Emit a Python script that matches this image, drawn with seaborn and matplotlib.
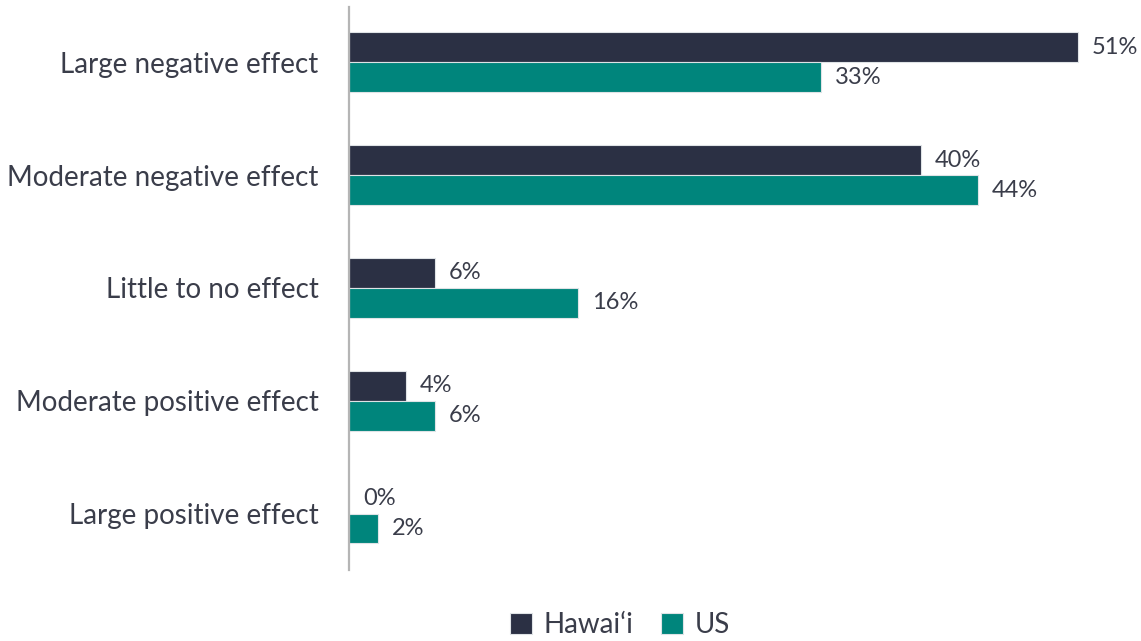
import matplotlib
matplotlib.use("Agg")
import matplotlib.pyplot as plt
import seaborn as sns
import pandas as pd

categories = [
    "Large negative effect",
    "Moderate negative effect",
    "Little to no effect",
    "Moderate positive effect",
    "Large positive effect",
]
hawaii = [51, 40, 6, 4, 0]
us = [33, 44, 16, 6, 2]
series_names = ["Hawai\u2018i", "US"]
colors = ["#2b3044", "#00857c"]
text_color = "#3a3d4a"

df = pd.DataFrame({
    "category": categories * 2,
    "value": hawaii + us,
    "region": [series_names[0]] * len(categories) + [series_names[1]] * len(categories),
})

sns.set_theme(style="white")
plt.rcParams["font.family"] = ["Lato", "DejaVu Sans"]

fig = plt.figure(figsize=(11.41, 6.41), dpi=100)
ax = fig.add_axes([349 / 1141, 1 - 570 / 641, (1120 - 349) / 1141, (570 - 7) / 641])

sns.barplot(
    data=df, x="value", y="category", hue="region", order=categories,
    hue_order=series_names, palette=colors, saturation=1, orient="h", width=0.53,
    edgecolor="#dfe3e6", linewidth=0.8, ax=ax, legend=True,
)

ax.set_xlim(0, (1120 - 349) / (729 / 51))
ax.set_ylim(4.5, -0.49)
ax.set_xlabel("")
ax.set_ylabel("")
ax.set_xticks([])
for s in ["top", "right", "bottom"]:
    ax.spines[s].set_visible(False)
ax.spines["left"].set_color("#b5b5b5")
ax.spines["left"].set_linewidth(1.6)
ax.tick_params(axis="y", length=0, pad=22, labelsize=20, labelcolor=text_color)

for cont in ax.containers:
    ax.bar_label(cont, fmt="%d%%", padding=10, fontsize=17, color=text_color)

ax.legend(
    loc="center", bbox_to_anchor=(620 / 1141, 1 - 625 / 641),
    bbox_transform=fig.transFigure, ncol=2, frameon=False,
    handlelength=0.8, handleheight=0.8, handletextpad=0.4, columnspacing=1.0,
    fontsize=20, labelcolor=text_color,
)

fig.savefig("out.png", dpi=100)
